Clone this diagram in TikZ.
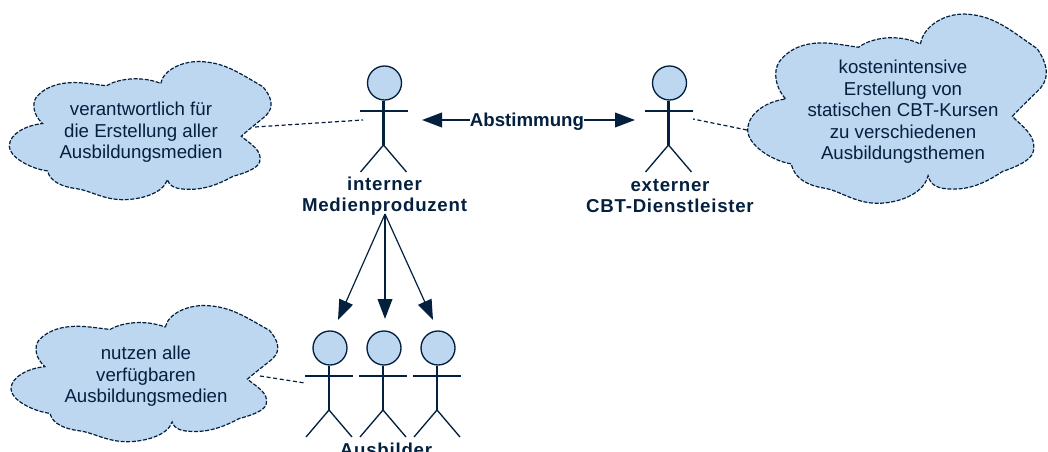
\documentclass[tikz,border=0pt]{standalone}
\usepackage{fontspec}
\setmainfont{Liberation Sans}
\newfontfamily\lblfont[LetterSpace=4]{Liberation Sans}
\usetikzlibrary{arrows.meta}
\definecolor{ink}{HTML}{04203F}
\definecolor{blob}{HTML}{BDD7F1}
\tikzset{
  x=0.75pt,y=-0.75pt,
  cloudline/.style={draw=ink,fill=blob,line width=0.9pt,dash pattern=on 3pt off 1.2pt},
  cloudtext/.style={text=ink,align=center,inner sep=0pt,font=\fontsize{14}{16.1}\selectfont},
  actorlabel/.style={text=ink,align=center,inner sep=0pt,font=\fontsize{14}{16.1}\selectfont\lblfont\bfseries},
  flowlabel/.style={text=ink,inner sep=0pt,font=\fontsize{14}{16}\selectfont\bfseries},
  headshape/.style={circle,draw=ink,fill=blob,line width=1pt,minimum size=25.5pt,inner sep=0pt},
  thick line/.style={draw=ink,line width=1.6pt},
  thin line/.style={draw=ink,line width=1pt},
  note line/.style={draw=ink,line width=0.9pt,dash pattern=on 3pt off 2pt},
  flow/.style={draw=ink,line width=1.3pt,-{Triangle[length=15pt,width=11pt]}},
  slim flow/.style={draw=ink,line width=0.9pt,-{Triangle[length=15pt,width=11pt]}},
}
\newcommand{\cloudat}[4]{%
  \begin{scope}[shift={(#1,#2)},x=0.25pt,y=-0.25pt,xscale=#3/790*3,yscale=#4/413*3,shift={(-28,-65)}]
  \path[cloudline] (483,130)
    .. controls (490,90) and (550,60) .. (610,65)
    .. controls (680,70) and (720,100) .. (790,140)
    .. controls (815,170) and (825,200) .. (800,225)
    .. controls (790,235) and (750,265) .. (725,288)
    .. controls (750,310) and (790,330) .. (780,365)
    .. controls (775,385) and (730,400) .. (700,408)
    .. controls (660,430) and (620,447) .. (570,447)
    .. controls (530,447) and (510,440) .. (503,418)
    .. controls (490,460) and (420,478) .. (370,478)
    .. controls (310,478) and (270,450) .. (230,445)
    .. controls (190,440) and (150,425) .. (143,392)
    .. controls (90,385) and (28,350) .. (28,318)
    .. controls (28,280) and (80,255) .. (128,250)
    .. controls (100,225) and (95,190) .. (110,170)
    .. controls (140,135) and (190,125) .. (240,128)
    .. controls (270,130) and (300,135) .. (320,137)
    .. controls (350,118) and (420,105) .. (483,130)
    -- cycle;
  \end{scope}}
\newcommand{\actorat}[3]{% name, body x, head centre y
  \node[headshape] (#1head) at ({#2+1},#3) {};
  \coordinate (#1neck) at (#2,#3+17);
  \coordinate (#1hip) at (#2,#3+62);
  \coordinate (#1la) at ({#2-24},#3+28);
  \coordinate (#1ra) at ({#2+24},#3+28);
  \coordinate (#1ll) at ({#2-23},#3+89);
  \coordinate (#1rl) at ({#2+23},#3+89);
  \draw[thick line] (#1head.south -| #1neck) -- (#1hip);
  \draw[thick line] (#1la) -- (#1ra);
  \draw[thin line] (#1ll) -- (#1hip) -- (#1rl);}
\begin{document}
\begin{tikzpicture}
\useasboundingbox (0,0) rectangle (1048,452);
\clip (0,0) rectangle (1048,452);

\coordinate (n1a) at (255,127); \coordinate (n1b) at (363,120);
\coordinate (n2a) at (747,130); \coordinate (n2b) at (693,119);
\coordinate (n3a) at (260,376); \coordinate (n3b) at (305,383);
\draw[note line] (n1a) -- (n1b);
\draw[note line] (n2a) -- (n2b);
\draw[note line] (n3a) -- (n3b);

\cloudat{9.3}{61.7}{263}{138}
\cloudat{747.7}{14.3}{300}{189}
\cloudat{11}{305.7}{268}{136}

\node[cloudtext] (note1) at (141,132.5) {verantwortlich für\\die Erstellung aller\\Ausbildungsmedien};
\node[cloudtext] (note2) at (903,112) {kostenintensive\\Erstellung von\\statischen CBT-Kursen\\zu verschiedenen\\Ausbildungsthemen};
\node[cloudtext] (note3) at (146,376.5) {nutzen alle\\verfügbaren\\Ausbildungsmedien};

\actorat{a}{383.5}{83}
\actorat{b}{668.5}{83}
\actorat{c}{329}{348}
\actorat{d}{383}{348}
\actorat{e}{437}{348}

\node[actorlabel] (med) at (384.5,196) {interner\\Medienproduzent};
\node[actorlabel] (ext) at (670,196) {externer\\CBT-Dienstleister};
\node[actorlabel] (aus) at (386,450) {Ausbilder};
\node[flowlabel] (abst) at (527,121.5) {Abstimmung};

\coordinate (t1) at (422,120);
\coordinate (t2) at (635,120);
\coordinate (src) at (385,214);
\coordinate (tc) at (338,320);
\coordinate (td) at (385,319);
\coordinate (te) at (433,320);
\draw[flow] (abst.west |- t1) -- (t1);
\draw[flow] (abst.east |- t2) -- (t2);
\draw[slim flow] (src) -- (tc);
\draw[flow] (src) -- (td);
\draw[slim flow] (src) -- (te);
\end{tikzpicture}
\end{document}
